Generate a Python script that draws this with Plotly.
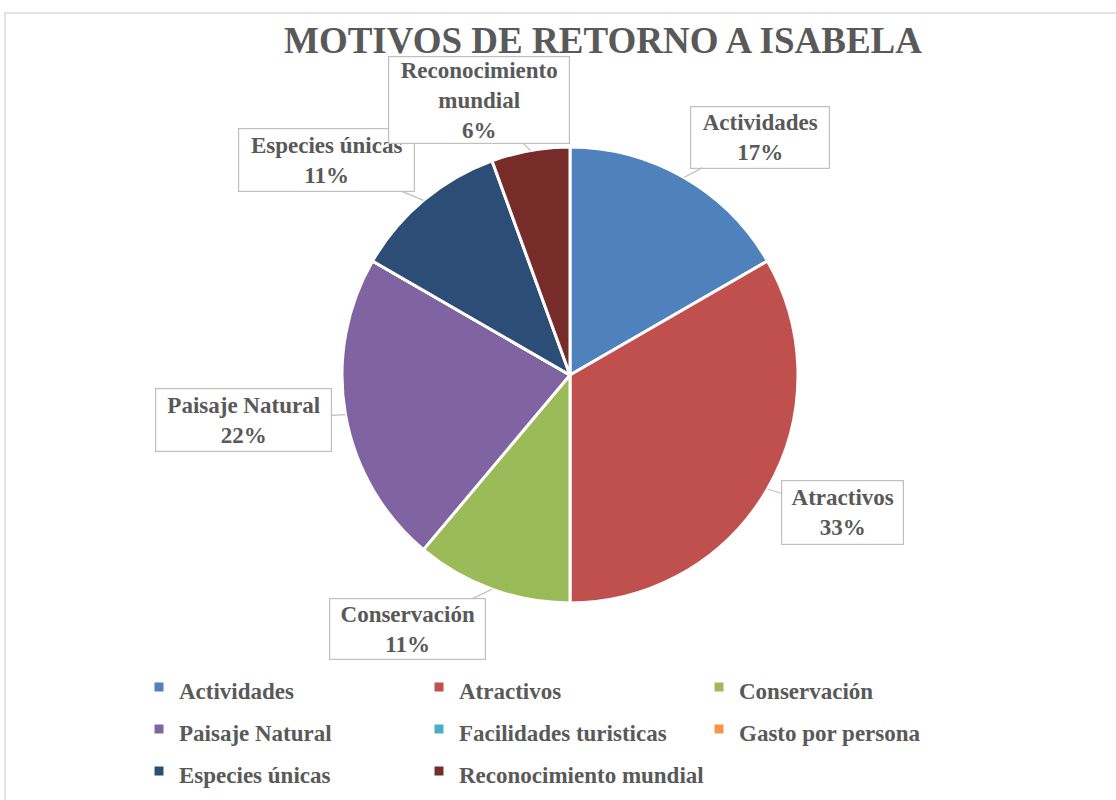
import math
import plotly.graph_objects as go

categories = ["Actividades", "Atractivos", "Conservación", "Paisaje Natural",
              "Facilidades turisticas", "Gasto por persona", "Especies únicas",
              "Reconocimiento mundial"]
values = [3, 6, 2, 4, 0, 0, 2, 1]
label_text = ["Actividades", "Atractivos", "Conservación", "Paisaje Natural",
              None, None, "Especies únicas", "Reconocimiento<br>mundial"]
colors = ["#4F81BD", "#C0504D", "#9BBB59", "#8064A2", "#4BACC6", "#F79646",
          "#2C4D75", "#772C2A"]

W, H = 1116, 800
MR = 200                      # right margin so the legend wraps into 3 columns
PW = W - MR                   # plot-area width (paper units are relative to this)
CX, CY, R = 570, 375, 228
FONT = "Liberation Serif"
TXT = "#595959"
LEG_TXT = 23

# callout box centers / sizes in pixels (layout)
boxes = {
    0: (760, 137, 140, 63),
    1: (842, 512, 123, 65),
    2: (408, 629, 157, 62),
    3: (243, 420, 177, 64),
    6: (326, 160, 177, 64),
    7: (479, 100, 182, 88),
}

legend_labels = [f'<span style="font-size:{LEG_TXT}px">{c}</span>' for c in categories]

fig = go.Figure(go.Pie(
    labels=legend_labels, values=values, sort=False, direction="clockwise",
    rotation=0, marker=dict(colors=colors, line=dict(color="white", width=3)),
    textinfo="none", customdata=categories,
    hovertemplate="%{customdata}: %{percent}<extra></extra>",
    domain=dict(x=[(CX - R) / PW, (CX + R) / PW], y=[1 - (CY + R) / H, 1 - (CY - R) / H]),
))

total = sum(values)
annotations = []
cum = 0
for i, v in enumerate(values):
    start = cum
    cum += v
    if v == 0 or i not in boxes:
        continue
    mid = (start + v / 2) / total * 2 * math.pi
    hx = CX + R * math.sin(mid)
    hy = CY - R * math.cos(mid)
    bx, by, bw, bh = boxes[i]
    pct = round(v / total * 100)
    annotations.append(dict(
        x=hx / PW, y=1 - hy / H, xref="paper", yref="paper",
        ax=bx - hx, ay=by - hy, axref="pixel", ayref="pixel",
        showarrow=True, arrowhead=0, arrowwidth=1.2, arrowcolor="#BFBFBF",
        text=f"{label_text[i]}<br>{pct}%",
        font=dict(family=FONT, size=23, color=TXT, weight="bold"),
        bgcolor="white", bordercolor="#BFBFBF", borderwidth=1.2, borderpad=2,
        width=bw - 6, height=bh - 6, align="center", valign="middle",
    ))

fig.update_layout(
    width=W, height=H, margin=dict(l=0, r=MR, t=0, b=0, autoexpand=False),
    paper_bgcolor="white", plot_bgcolor="white",
    title=dict(text="MOTIVOS DE RETORNO A ISABELA", x=603 / W, xanchor="center",
               xref="container", y=1 - 40 / H, yanchor="middle",
               font=dict(family=FONT, size=37, color=TXT, weight="bold")),
    legend=dict(orientation="h", x=139 / PW, xanchor="left", y=1 - 661 / H, yanchor="top",
                entrywidth=235, entrywidthmode="pixels", bgcolor="rgba(0,0,0,0)",
                font=dict(family=FONT, size=30, color=TXT, weight="bold"),
                itemclick=False),
    annotations=annotations,
    shapes=[dict(type="rect", xref="paper", yref="paper", x0=5 / PW, x1=(W + 20) / PW,
                 y0=-0.02, y1=1 - 13 / H, line=dict(color="#D9D9D9", width=1.5),
                 layer="below")],
)

fig.write_html("out.html", config={"displayModeBar": False},
               post_script="document.body.style.margin='0px';")
